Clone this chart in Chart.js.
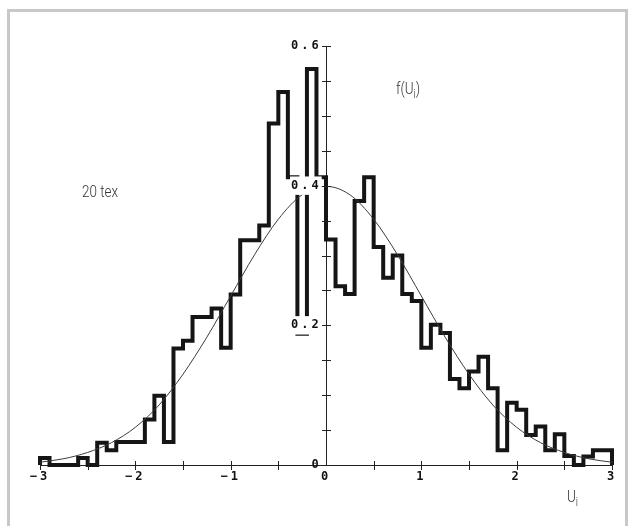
<!DOCTYPE html>
<html>
<head>
<meta charset="utf-8">
<script src="https://cdn.jsdelivr.net/npm/chart.js@4.4.1/dist/chart.umd.min.js"></script>
<style>
  html, body { margin: 0; padding: 0; background: #fff; }
  #wrap { position: relative; width: 631px; height: 526px; overflow: hidden; }
  #frame { position: absolute; left: 7px; top: 9px; width: 621px; height: 540px;
           border: 3px solid #c8c8c8; border-bottom: none; box-sizing: border-box; }
  #box { position: absolute; left: 0; top: 0; width: 631px; height: 526px; }
  .lbl { position: absolute; font-family: Roboto, "Liberation Sans", sans-serif; font-weight: 300;
         font-size: 16px; line-height: 16px; color: #333; white-space: nowrap;
         transform: scaleX(0.84); transform-origin: left top; }
  .lbl sub { font-size: 12px; vertical-align: -4px; line-height: 0; }
</style>
</head>
<body>
<div id="wrap">
  <div id="frame"></div>
  <div id="box"><canvas id="histChart"></canvas></div>
  <div class="lbl" style="left:82px; top:184px;">20 tex</div>
  <div class="lbl" style="left:396px; top:81px;">f(U<sub>i</sub>)</div>
  <div class="lbl" style="left:567px; top:489px;">U<sub>i</sub></div>
</div>
<script>
// bin edges of the histogram (U_i)
const binEdges = [
  -3.0, -2.9, -2.8, -2.7, -2.6, -2.5, -2.4, -2.3, -2.2, -2.1,
  -2.0, -1.9, -1.8, -1.7, -1.6, -1.5, -1.4, -1.3, -1.2, -1.1,
  -1.0, -0.9, -0.8, -0.7, -0.6, -0.5, -0.4, -0.3, -0.2, -0.1,
   0.0,  0.1,  0.2,  0.3,  0.4,  0.5,  0.6,  0.7,  0.8,  0.9,
   1.0,  1.1,  1.2,  1.3,  1.4,  1.5,  1.6,  1.7,  1.8,  1.9,
   2.0,  2.1,  2.2,  2.3,  2.4,  2.5,  2.6,  2.7,  2.8,  2.9,
   3.0
];

// observed density in each bin
const binHeights = [
  0.010, 0.000, 0.000, 0.000, 0.010, 0.000, 0.032, 0.021, 0.033, 0.033,
  0.033, 0.065, 0.099, 0.033, 0.167, 0.178, 0.212, 0.212, 0.224, 0.168,
  0.244, 0.322, 0.322, 0.343, 0.489, 0.534, 0.412, 0.188, 0.567, 0.412,
  0.323, 0.256, 0.245, 0.378, 0.412, 0.312, 0.268, 0.300, 0.245, 0.235,
  0.168, 0.201, 0.189, 0.123, 0.110, 0.134, 0.155, 0.110, 0.021, 0.089,
  0.079, 0.043, 0.055, 0.021, 0.044, 0.013, 0.000, 0.012, 0.021, 0.021
];

// theoretical curve f(U_i)
const curveU = [-3, -2.75, -2.5, -2.25, -2, -1.75, -1.5, -1.25, -1, -0.75, -0.5, -0.25,
                 0, 0.25, 0.5, 0.75, 1, 1.25, 1.5, 1.75, 2, 2.25, 2.5, 2.75, 3];
const curveF = [0.004, 0.009, 0.018, 0.032, 0.054, 0.086, 0.130, 0.183, 0.242, 0.301, 0.352, 0.387,
                0.399, 0.387, 0.352, 0.301, 0.242, 0.183, 0.130, 0.086, 0.054, 0.032, 0.018, 0.009, 0.004];

const xLabels = [-3, -2, -1, 0, 1, 2, 3];
const yLabels = [0, 0.2, 0.4, 0.6];

// outline of the histogram: one point at the left edge of every bin
const histPoints = [{ x: binEdges[0], y: 0 }];
binHeights.forEach((h, i) => histPoints.push({ x: binEdges[i], y: h }));
histPoints.push({ x: binEdges[binEdges.length - 1], y: binHeights[binHeights.length - 1] });
histPoints.push({ x: binEdges[binEdges.length - 1], y: 0 });

const curvePoints = curveU.map((u, i) => ({ x: u, y: curveF[i] }));

const isYLabel = v => yLabels.some(t => Math.abs(t - v) < 1e-9);

// wide spacing of the tick digits
const spacing = {
  id: 'spacing',
  beforeLayout(chart) { chart.ctx.letterSpacing = '3px'; },
  beforeDraw(chart) { chart.ctx.letterSpacing = '3px'; }
};

// tick marks crossing both axes
const crossTicks = {
  id: 'crossTicks',
  afterDraw(chart) {
    const { ctx, scales: { x, y } } = chart;
    const ax = x.getPixelForValue(0);
    const ay = y.getPixelForValue(0);
    ctx.save();
    ctx.strokeStyle = '#222';
    ctx.lineWidth = 1;
    ctx.beginPath();
    x.ticks.forEach(t => {
      if (t.value === 0) return;
      const px = Math.round(x.getPixelForValue(t.value)) + 0.5;
      ctx.moveTo(px, ay - 4);
      ctx.lineTo(px, ay + 5);
    });
    y.ticks.forEach(t => {
      if (Math.abs(t.value) < 1e-9) return;
      const py = Math.round(y.getPixelForValue(t.value)) + 0.5;
      ctx.moveTo(ax - 4, py);
      ctx.lineTo(ax + 5, py);
    });
    ctx.stroke();
    ctx.restore();
  }
};

const tickFont = { family: '"DejaVu Sans Mono", monospace', weight: 'bold', size: 12 };

new Chart(document.getElementById('histChart'), {
  type: 'line',
  data: {
    datasets: [
      {
        data: curvePoints,
        borderColor: '#3c3c3c',
        borderWidth: 1,
        pointRadius: 0,
        cubicInterpolationMode: 'monotone',
        fill: false
      },
      {
        data: histPoints,
        borderColor: '#151515',
        borderWidth: 4,
        pointRadius: 0,
        stepped: 'before',
        borderJoinStyle: 'miter',
        fill: false,
        clip: false
      }
    ]
  },
  options: {
    responsive: true,
    maintainAspectRatio: false,
    animation: false,
    layout: { padding: { left: 40, right: 19, top: 46, bottom: 61 } },
    plugins: { legend: { display: false }, tooltip: { enabled: false } },
    scales: {
      x: {
        type: 'linear',
        min: -3,
        max: 3,
        position: { y: 0 },
        border: { display: true, color: '#222', width: 1 },
        grid: { display: false, drawTicks: false },
        ticks: {
          stepSize: 0.5,
          autoSkip: false,
          maxRotation: 0,
          padding: 5,
          color: '#111',
          font: tickFont,
          callback: v => xLabels.includes(v) ? (v < 0 ? '\u2212' + Math.abs(v) : String(v)) : ''
        }
      },
      y: {
        type: 'linear',
        min: 0,
        max: 0.6,
        position: { x: 0 },
        border: { display: true, color: '#222', width: 1 },
        grid: { display: false, drawTicks: false },
        ticks: { stepSize: 0.05, autoSkip: false, callback: () => '' }
      },
      // labels of the f(U_i) axis, set just left of the axis line, drawn over the bars
      yLabels: {
        axis: 'y',
        type: 'linear',
        min: 0,
        max: 0.6,
        position: { x: -0.045 },
        border: { display: false },
        grid: { display: false, drawTicks: false },
        ticks: {
          z: 2,
          stepSize: 0.2,
          autoSkip: false,
          color: '#111',
          font: tickFont,
          showLabelBackdrop: c => c.tick.value !== 0,
          backdropColor: '#fff',
          backdropPadding: { top: 2, bottom: 2, left: 1, right: 0 },
          callback: v => {
            if (!isYLabel(v)) return '';
            return Math.abs(v) < 1e-9 ? '0' : v.toFixed(1);
          }
        }
      }
    }
  },
  plugins: [spacing, crossTicks]
});
</script>
</body>
</html>
